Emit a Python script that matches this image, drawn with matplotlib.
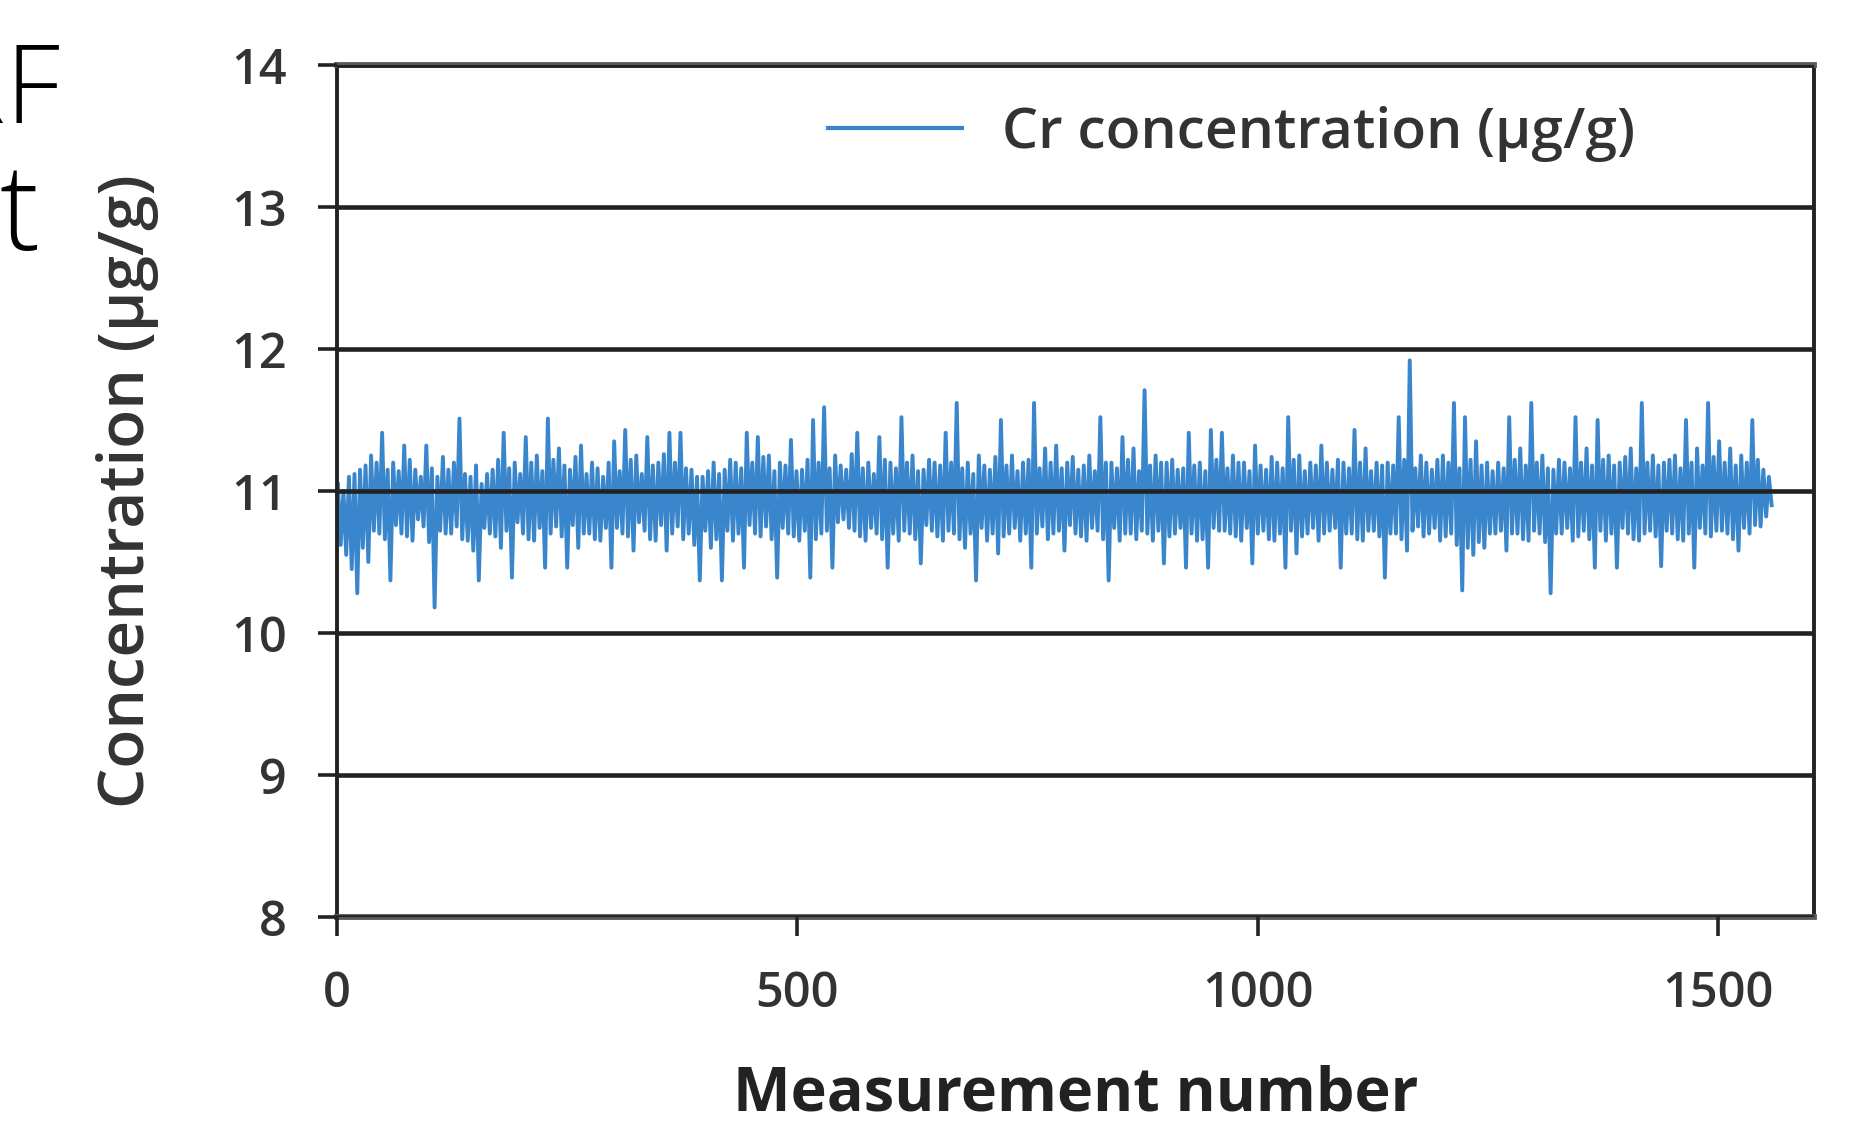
import numpy as np
import matplotlib
matplotlib.use("Agg")
import matplotlib.pyplot as plt

plt.rcParams['font.family'] = ['Open Sans', 'DejaVu Sans']

# Measurement numbers (every 3rd measurement sampled from the trace)
measurement = np.arange(1, 1560, 3)

# Cr concentration (µg/g), 20 values per row
cr_conc = [
    11.05, 10.62, 11.00, 10.55, 11.10, 10.45, 11.12, 10.28, 11.15, 10.60, 11.18, 10.50, 11.25, 10.72, 11.20, 10.70, 11.41, 10.66, 11.15, 10.37,
    11.20, 10.76, 11.14, 10.70, 11.32, 10.68, 11.22, 10.65, 11.15, 10.80, 11.10, 10.75, 11.32, 10.64, 11.16, 10.18, 11.10, 10.72, 11.24, 10.70,
    11.15, 10.70, 11.20, 10.75, 11.51, 10.66, 11.12, 10.65, 11.10, 10.58, 11.18, 10.37, 11.05, 10.74, 11.12, 10.70, 11.15, 10.68, 11.22, 10.60,
    11.41, 10.72, 11.16, 10.39, 11.20, 10.78, 11.12, 10.70, 11.38, 10.66, 11.20, 10.65, 11.25, 10.74, 11.14, 10.46, 11.51, 10.70, 11.22, 10.75,
    11.30, 10.68, 11.18, 10.46, 11.15, 10.76, 11.24, 10.60, 11.32, 10.70, 11.12, 10.70, 11.20, 10.66, 11.16, 10.65, 11.10, 10.74, 11.20, 10.46,
    11.35, 10.74, 11.14, 10.70, 11.43, 10.68, 11.22, 10.58, 11.25, 10.78, 11.12, 10.72, 11.38, 10.66, 11.18, 10.65, 11.20, 10.76, 11.26, 10.58,
    11.41, 10.70, 11.20, 10.75, 11.41, 10.66, 11.16, 10.70, 11.15, 10.62, 11.10, 10.37, 11.10, 10.72, 11.14, 10.60, 11.20, 10.66, 11.12, 10.37,
    11.15, 10.72, 11.22, 10.65, 11.20, 10.70, 11.16, 10.46, 11.41, 10.76, 11.20, 10.70, 11.38, 10.68, 11.24, 10.75, 11.25, 10.66, 11.14, 10.39,
    11.20, 10.74, 11.18, 10.70, 11.36, 10.68, 11.14, 10.65, 11.15, 10.72, 11.22, 10.39, 11.50, 10.66, 11.20, 10.70, 11.59, 10.72, 11.16, 10.46,
    11.25, 10.78, 11.18, 10.80, 11.15, 10.74, 11.26, 10.72, 11.41, 10.68, 11.16, 10.65, 11.20, 10.74, 11.12, 10.70, 11.38, 10.66, 11.22, 10.46,
    11.20, 10.70, 11.16, 10.65, 11.52, 10.72, 11.20, 10.70, 11.25, 10.66, 11.14, 10.49, 11.15, 10.76, 11.22, 10.72, 11.20, 10.68, 11.18, 10.65,
    11.41, 10.72, 11.20, 10.70, 11.62, 10.66, 11.16, 10.60, 11.20, 10.70, 11.12, 10.37, 11.25, 10.74, 11.18, 10.65, 11.15, 10.70, 11.24, 10.56,
    11.50, 10.68, 11.18, 10.70, 11.25, 10.74, 11.14, 10.65, 11.20, 10.70, 11.22, 10.46, 11.62, 10.70, 11.16, 10.75, 11.30, 10.66, 11.20, 10.70,
    11.32, 10.72, 11.16, 10.58, 11.20, 10.76, 11.24, 10.70, 11.15, 10.68, 11.18, 10.65, 11.25, 10.74, 11.14, 10.72, 11.52, 10.66, 11.20, 10.37,
    11.20, 10.74, 11.16, 10.65, 11.38, 10.70, 11.22, 10.70, 11.30, 10.66, 11.14, 10.72, 11.71, 10.70, 11.18, 10.65, 11.25, 10.72, 11.20, 10.49,
    11.20, 10.68, 11.22, 10.70, 11.15, 10.74, 11.16, 10.46, 11.41, 10.70, 11.18, 10.65, 11.20, 10.66, 11.14, 10.46, 11.43, 10.74, 11.22, 10.72,
    11.41, 10.72, 11.16, 10.70, 11.25, 10.68, 11.20, 10.65, 11.20, 10.74, 11.14, 10.49, 11.32, 10.70, 11.18, 10.72, 11.15, 10.66, 11.24, 10.65,
    11.20, 10.70, 11.16, 10.46, 11.52, 10.72, 11.22, 10.56, 11.25, 10.68, 11.14, 10.70, 11.20, 10.74, 11.18, 10.65, 11.32, 10.70, 11.20, 10.72,
    11.15, 10.74, 11.22, 10.46, 11.20, 10.70, 11.16, 10.70, 11.43, 10.66, 11.20, 10.65, 11.30, 10.72, 11.14, 10.72, 11.20, 10.68, 11.18, 10.39,
    11.20, 10.70, 11.18, 10.70, 11.52, 10.66, 11.22, 10.58, 11.92, 10.72, 11.16, 10.75, 11.25, 10.68, 11.20, 10.70, 11.15, 10.74, 11.22, 10.65,
    11.25, 10.68, 11.20, 10.70, 11.62, 10.62, 11.16, 10.30, 11.52, 10.60, 11.22, 10.55, 11.35, 10.64, 11.18, 10.60, 11.20, 10.70, 11.14, 10.70,
    11.20, 10.72, 11.16, 10.58, 11.52, 10.70, 11.22, 10.70, 11.30, 10.66, 11.18, 10.65, 11.62, 10.72, 11.20, 10.70, 11.25, 10.64, 11.16, 10.28,
    11.15, 10.70, 11.22, 10.70, 11.20, 10.74, 11.16, 10.65, 11.52, 10.68, 11.20, 10.72, 11.30, 10.66, 11.18, 10.46, 11.50, 10.72, 11.22, 10.65,
    11.25, 10.70, 11.18, 10.46, 11.20, 10.74, 11.24, 10.70, 11.30, 10.66, 11.16, 10.65, 11.62, 10.70, 11.20, 10.72, 11.25, 10.68, 11.18, 10.47,
    11.20, 10.72, 11.22, 10.70, 11.25, 10.66, 11.16, 10.65, 11.50, 10.70, 11.20, 10.46, 11.30, 10.74, 11.18, 10.70, 11.62, 10.68, 11.24, 10.72,
    11.35, 10.72, 11.20, 10.70, 11.30, 10.66, 11.18, 10.58, 11.25, 10.74, 11.20, 10.70, 11.50, 10.76, 11.22, 10.75, 11.15, 10.82, 11.10, 10.90,
]

series_label = "Cr concentration (µg/g)"
x_label = "Measurement number"
y_label = "Concentration (µg/g)"
x_ticks = [0, 500, 1000, 1500]
y_ticks = [8, 9, 10, 11, 12, 13, 14]

fig = plt.figure(figsize=(18.55, 11.26), dpi=100)
ax = fig.add_axes([337/1855, 1-917/1126, (1814-337)/1855, (917-65)/1126])

ax.plot(measurement, cr_conc, color='#3a86cc', lw=2.8, label=series_label, zorder=2)

ax.set_xlim(0, 1604)
ax.set_ylim(8, 14)
ax.set_xticks(x_ticks)
ax.set_yticks(y_ticks)

ax.set_axisbelow(False)
ax.grid(axis='y', color='#222222', lw=3.3, zorder=3)
ax.grid(axis='x', visible=False)

for side in ['top', 'bottom']:
    ax.spines[side].set_color('#5a5a5a')
    ax.spines[side].set_linewidth(4.2)
for side in ['left', 'right']:
    ax.spines[side].set_color('#222222')
    ax.spines[side].set_linewidth(2.8)

ax.tick_params(axis='both', direction='out', length=14, width=2.6, color='#222222',
               labelsize=35, labelcolor='#333333')
ax.tick_params(axis='y', pad=22)
ax.tick_params(axis='x', pad=24)
for lab in ax.get_xticklabels() + ax.get_yticklabels():
    lab.set_fontweight('semibold')

ax.set_xlabel(x_label, fontsize=44, fontweight='bold', color='#222222', labelpad=33)
ax.set_ylabel(y_label, fontsize=46, fontweight='semibold', color='#333333', labelpad=52)

leg = ax.legend(loc='center left', bbox_to_anchor=((828-337)/1477, (917-134)/852),
                frameon=False, fontsize=41, handlelength=2.35, handletextpad=0.7,
                borderpad=0, borderaxespad=0)
for t in leg.get_texts():
    t.set_color('#333333')
    t.set_fontweight('semibold')
for h in leg.get_lines():
    h.set_linewidth(3)

fig.text(60/1855, 1-123/1126, "RF", ha='right', va='baseline', fontsize=78,
         fontweight='light', color='black')
fig.text(40/1855, 1-250/1126, "t", ha='right', va='baseline', fontsize=86,
         fontweight='light', color='black')

fig.savefig("out.png", dpi=100)
